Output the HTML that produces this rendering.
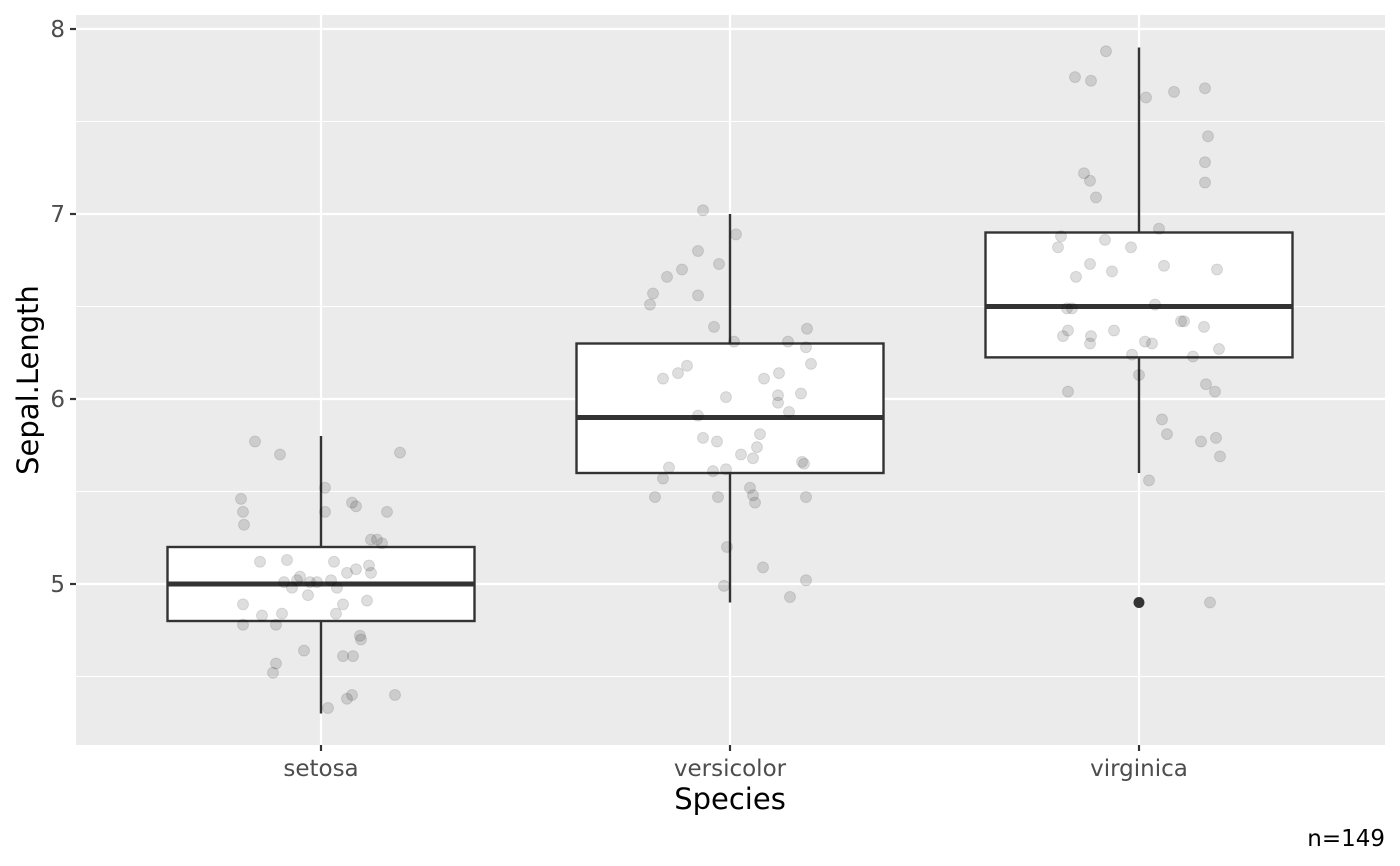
<!DOCTYPE html>
<html><head><meta charset="utf-8"><style>
html,body{margin:0;padding:0;background:#fff;}
svg{display:block;font-family:"DejaVu Sans","Liberation Sans",sans-serif;}
</style></head><body>
<svg id="chart" width="1400" height="866" viewBox="0 0 1400 866" xmlns="http://www.w3.org/2000/svg"></svg>
<script>
const categories = ["setosa","versicolor","virginica"];
const q1 = [4.8, 5.6, 6.225];
const medians = [5.0, 5.9, 6.5];
const q3 = [5.2, 6.3, 6.9];
const whiskerLow = [4.3, 4.9, 5.6];
const whiskerHigh = [5.8, 7.0, 7.9];
const outlierCat = [2];
const outlierVal = [4.9];
const yTicks = [5, 6, 7, 8];
const yMinor = [4.5, 5.5, 6.5, 7.5];
const setosaPts = [[255,441],[280,455],[400,453],[241,498],[243,511],[244,524],[325,487],[352,503],[356,506],[325,511],[387,511],[371,539],[377,539],[382,543],[260,562],[287,560],[334,562],[369,566],[371,572],[347,572],[356,570],[300,577],[284,582],[297,581],[292,588],[310,582],[317,582],[331,580],[337,588],[308,596],[243,605],[343,605],[367,601],[262,616],[282,614],[336,614],[243,624],[276,624],[360,635],[361,640],[304,651],[343,657],[353,657],[276,663],[273,673],[352,695],[347,698],[395,695],[328,708]].map(p=>[0,(p[0]-321)/409,+(5+(584-p[1])/185).toFixed(2)]);
const versiPts = [[703,210],[736,235],[698,251],[682,269],[667,276],[719,264],[653,294],[650,304],[698,295],[714,326],[734,341],[788,342],[807,328],[806,348],[687,365],[678,373],[663,378],[811,364],[764,378],[779,374],[801,393],[778,396],[726,398],[778,402],[789,412],[698,416],[760,435],[703,438],[717,442],[741,454],[757,447],[753,459],[802,461],[804,464],[669,468],[663,478],[713,472],[726,470],[750,488],[655,497],[718,497],[753,495],[755,503],[806,497],[727,547],[763,567],[724,586],[806,581],[790,597]].map(p=>[1,(p[0]-730)/409,+(5+(584-p[1])/185).toFixed(2)]);
const virgPts = [[1106,51],[1075,78],[1091,81],[1146,98],[1174,91],[1205,89],[1208,136],[1205,162],[1205,182],[1084,174],[1090,180],[1096,197],[1159,229],[1061,236],[1105,239],[1058,247],[1131,248],[1090,264],[1076,276],[1112,272],[1164,265],[1217,269],[1067,309],[1072,309],[1155,305],[1181,321],[1184,321],[1204,327],[1068,331],[1063,337],[1091,337],[1114,331],[1090,344],[1145,342],[1152,343],[1219,349],[1132,355],[1193,356],[1139,375],[1068,392],[1206,385],[1215,392],[1162,419],[1167,434],[1201,441],[1216,438],[1220,456],[1149,480],[1210,603]].map(p=>[2,(p[0]-1139)/409,+(5+(584-p[1])/185).toFixed(2)]);

const svg = document.getElementById('chart');
const NS = "http://www.w3.org/2000/svg";
const PL=76, PR=1385, PT=15, PB=745;
const yScale = v => 584 - (v-5)*185;
const xScale = i => 321 + i*409;
const halfW = 153.5;
function mk(tag, attrs, parent){const e=document.createElementNS(NS,tag);for(const k in attrs)e.setAttribute(k,attrs[k]);(parent||svg).appendChild(e);return e;}

const panel = mk('rect',{x:PL,y:PT,width:PR-PL,height:PB-PT,fill:'#EBEBEB'});


yMinor.forEach(v=>{const l=mk('line',{x1:PL,x2:PR,y1:yScale(v),y2:yScale(v),stroke:'#fff','stroke-width':1.1});

});
yTicks.forEach(v=>{const l=mk('line',{x1:PL,x2:PR,y1:yScale(v),y2:yScale(v),stroke:'#fff','stroke-width':2.2});


const t=mk('line',{x1:PL-6,x2:PL,y1:yScale(v),y2:yScale(v),stroke:'#333','stroke-width':2.2});


const tx=mk('text',{x:PL-11,y:yScale(v)+8,'text-anchor':'end','font-size':23,fill:'#4D4D4D'});tx.textContent=v;

});
categories.forEach((c,i)=>{const x=xScale(i);
const l=mk('line',{x1:x,x2:x,y1:PT,y2:PB,stroke:'#fff','stroke-width':2.2});


const t=mk('line',{x1:x,x2:x,y1:PB,y2:PB+6,stroke:'#333','stroke-width':2.2});


const tx=mk('text',{x:x,y:776,'text-anchor':'middle','font-size':23,fill:'#4D4D4D'});tx.textContent=c;

});

categories.forEach((c,i)=>{const x=xScale(i);
const g=mk('g',{});


mk('line',{x1:x,x2:x,y1:yScale(whiskerHigh[i]),y2:yScale(q3[i]),stroke:'#333','stroke-width':2.4},g);
mk('line',{x1:x,x2:x,y1:yScale(q1[i]),y2:yScale(whiskerLow[i]),stroke:'#333','stroke-width':2.4},g);
mk('rect',{x:x-halfW,y:yScale(q3[i]),width:2*halfW,height:yScale(q1[i])-yScale(q3[i]),fill:'#fff',stroke:'#333','stroke-width':2.4},g);
mk('line',{x1:x-halfW,x2:x+halfW,y1:yScale(medians[i]),y2:yScale(medians[i]),stroke:'#333','stroke-width':5},g);
});
outlierCat.forEach((ci,k)=>{const c=mk('circle',{cx:xScale(ci),cy:yScale(outlierVal[k]),r:5.5,fill:'#333'});

});
[setosaPts,versiPts,virgPts].forEach(arr=>arr.forEach(p=>{
const c=mk('circle',{cx:xScale(p[0])+p[1]*409,cy:yScale(p[2]),r:5.5,fill:'#000','fill-opacity':0.13,stroke:'#000','stroke-opacity':0.1,'stroke-width':1});

}));

const xt=mk('text',{x:730,y:809,'text-anchor':'middle','font-size':29,fill:'#000'});xt.textContent='Species';


const yt=mk('text',{x:0,y:0,'text-anchor':'middle','font-size':29,fill:'#000',transform:'translate(38,380) rotate(-90)'});yt.textContent='Sepal.Length';


const cap=mk('text',{x:1385,y:846,'text-anchor':'end','font-size':23,fill:'#000'});cap.textContent='n=149';


</script>
</body></html>
